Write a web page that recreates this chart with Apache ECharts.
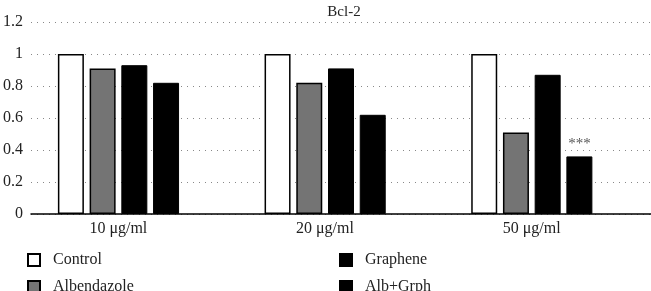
<!DOCTYPE html>
<html><head><meta charset="utf-8">
<script src="https://cdn.jsdelivr.net/npm/echarts@6/dist/echarts.min.js"></script>
<style>html,body{margin:0;padding:0;background:#fff}#c{width:651px;height:291px}</style>
</head><body><div id="c"></div>
<script>
const categories = ['10 μg/ml', '20 μg/ml', '50 μg/ml'];
const control = [1, 1, 1];
const albendazole = [0.91, 0.82, 0.51];
const graphene = [0.93, 0.91, 0.87];
const albGrph = [0.82, 0.62, 0.36];
const albGrphMarks = ['', '', '***'];
const yTicks = [0, 0.2, 0.4, 0.6, 0.8, 1, 1.2];

const FONT = 'Liberation Serif';
const chart = echarts.init(document.getElementById('c'));
const barBase = {type: 'bar', barWidth: 26, barGap: '22%'};
const legendBase = {orient: 'vertical', top: 252, height: 100, padding: 0, itemGap: 11,
  itemWidth: 12, itemHeight: 12, icon: 'rect',
  textStyle: {fontFamily: FONT, fontSize: 16, lineHeight: 14, color: '#222', padding: [0, 0, 0, 8]}};
chart.setOption({
  animation: false,
  title: {text: 'Bcl-2', left: 339, top: 0, textAlign: 'center',
    textStyle: {fontFamily: FONT, fontSize: 15, fontWeight: 'normal', color: '#222'}},
  grid: {left: 27, right: 0, top: 22, bottom: 77},
  legend: [
    Object.assign({data: ['Control', 'Albendazole'], left: 27}, legendBase),
    Object.assign({data: ['Graphene', 'Alb+Grph'], left: 339}, legendBase)
  ],
  xAxis: {type: 'category', data: categories,
    axisLine: {lineStyle: {color: '#000', width: 1.5}}, axisTick: {show: false},
    axisLabel: {margin: 7, fontFamily: FONT, fontSize: 16, color: '#222',
      formatter: (v) => '{s|' + v + '}',
      rich: {s: {fontFamily: FONT, fontSize: 16, color: '#222', padding: [0, 32, 0, 0]}}}},
  yAxis: {type: 'value', min: 0, max: 1.2, interval: 0.2,
    axisLine: {show: false}, axisTick: {show: false},
    axisLabel: {margin: 8, fontFamily: FONT, fontSize: 16, color: '#222',
      formatter: (v) => { const t = yTicks.find(x => Math.abs(x - v) < 1e-6); return t === undefined ? '' : String(t); }},
    splitLine: {lineStyle: {color: '#888', type: [1, 5], width: 1}}},
  series: [
    Object.assign({name: 'Control', data: control,
      itemStyle: {color: '#fff', borderColor: '#000', borderWidth: 1.5}}, barBase),
    Object.assign({name: 'Albendazole', data: albendazole,
      itemStyle: {color: '#747474', borderColor: '#000', borderWidth: 1.5}}, barBase),
    Object.assign({name: 'Graphene', data: graphene,
      itemStyle: {color: '#000', borderColor: '#000', borderWidth: 1}}, barBase),
    Object.assign({name: 'Alb+Grph', data: albGrph.map((v, i) => ({value: v, mark: albGrphMarks[i]})),
      itemStyle: {color: '#000', borderColor: '#000', borderWidth: 1},
      label: {show: true, position: 'top', distance: 5, fontFamily: FONT, fontSize: 15, color: '#555',
        formatter: (p) => p.data.mark}}, barBase),
    Object.assign({name: '', data: [null, null, null], itemStyle: {color: 'transparent'},
      silent: true}, barBase)
  ]
});
</script></body></html>
